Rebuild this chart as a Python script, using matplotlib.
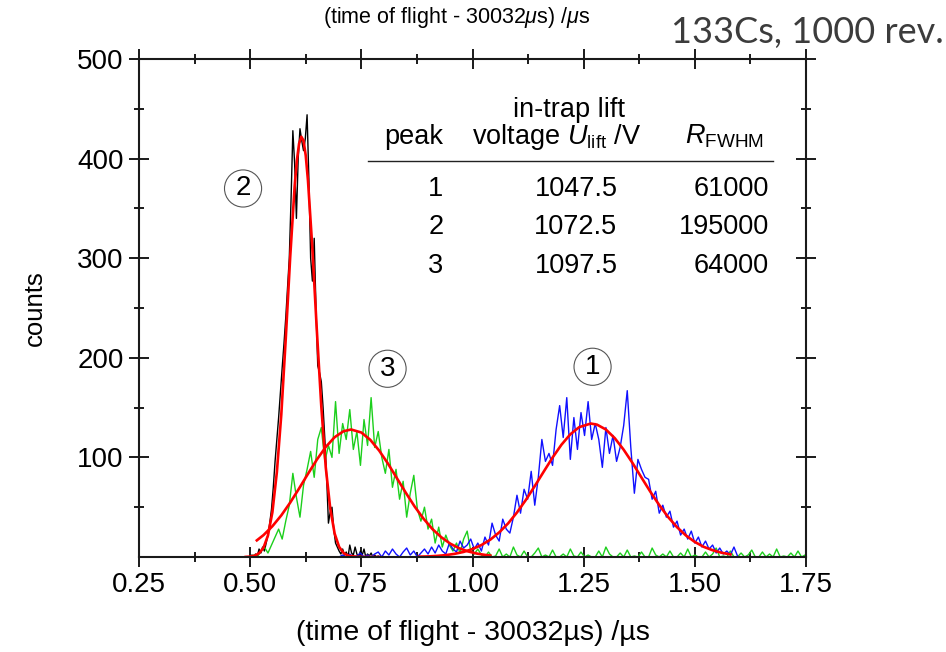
import numpy as np
import matplotlib
matplotlib.use("Agg")
import matplotlib.pyplot as plt
from matplotlib.ticker import FixedLocator

plt.rcParams["font.family"] = ["Liberation Sans", "DejaVu Sans"]
plt.rcParams["mathtext.fontset"] = "custom"
plt.rcParams["mathtext.rm"] = "Liberation Sans"
plt.rcParams["mathtext.it"] = "Liberation Sans:italic"

black_start, black_step = 0.50, 0.004
black_counts = [
    0, 2, 0, 3, 1, 8, 4, 10, 6, 14,
    22, 34, 48, 70, 96, 118, 140, 165, 190, 214,
    240, 270, 300, 360, 428, 395, 340, 400, 430, 418,
    408, 420, 444, 380, 300, 277, 320, 250, 192, 185,
    176, 150, 118, 80, 34, 45, 50, 28, 14, 10,
    6, 3, 8, 2, 5, 0, 12, 4, 2, 10,
    3, 0, 6, 2, 8, 0, 3, 1, 4, 0,
    2, 0, 1, 0, 0, 0,
]

green_start, green_step = 0.50, 0.008
green_counts = [
    0, 2, 0, 6, 10, 4, 12, 20, 28, 18,
    36, 52, 84, 60, 40, 72, 88, 106, 80, 118,
    130, 96, 112, 100, 156, 104, 134, 118, 148, 108,
    126, 92, 138, 112, 160, 110, 126, 100, 84, 108,
    70, 88, 58, 76, 40, 64, 82, 48, 36, 50,
    28, 38, 14, 30, 10, 22, 12, 6, 14, 4,
    18, 26, 6, 3, 8,
    2, 0, 5, 0, 1, 8, 0, 3, 0, 10,
    2, 0, 6, 0, 0, 4, 9, 0, 2, 0,
    7, 0, 0, 3, 0, 8, 1, 0, 5, 0,
    2, 0, 0, 6, 0, 10, 3, 0, 0, 4,
    0, 7, 0, 1, 0, 5, 0, 0, 9, 2,
    0, 3, 0, 6, 0, 0, 4, 0, 8, 0,
    2, 0, 0, 5, 0, 3, 9, 0, 1, 0,
    6, 0, 0, 4, 0, 2, 7, 0, 0, 5,
    0, 3, 0, 8, 0, 1, 0, 4, 0, 6,
    0, 2,
]

blue_start, blue_step = 0.70, 0.008
blue_counts = [
    0, 2, 0, 3, 0, 1, 4, 0, 2, 0, 3,
    5, 0, 6, 2, 8, 3, 0, 5, 9, 2, 6, 0, 4, 8, 3,
    10, 4, 12, 6, 3, 14, 8, 5, 16, 9, 12, 18,
    8, 14, 6, 20, 12, 34, 22, 16, 38, 28, 24, 40,
    62, 44, 68, 58, 86, 52, 80, 118, 96, 104, 92, 128,
    152, 120, 160, 98, 140, 108, 145, 122, 156, 118, 134, 118,
    90, 130, 104, 122, 96, 110, 132, 167, 110, 64, 98, 88, 80,
    78, 58, 66, 44, 52, 40, 46, 30, 36, 22, 28, 18, 26,
    14, 20, 10, 16, 8, 12, 4, 9, 3, 6, 2, 10, 1,
]

# fitted curves (red), sampled from the figure
fit2_x = [0.49, 0.50, 0.51, 0.52, 0.53, 0.54, 0.55, 0.56, 0.57, 0.58, 0.59,
          0.60, 0.605, 0.61, 0.615, 0.62, 0.625, 0.63, 0.64, 0.65, 0.66,
          0.67, 0.68, 0.69, 0.70, 0.71, 0.72, 0.74, 0.76, 0.79]
fit2_y = [0.1, 0.4, 1.3, 3.7, 9.3, 21.6, 45, 85, 143, 219, 301,
          372, 398, 415, 422, 418, 403, 378, 309, 227, 151,
          90, 49, 23.5, 10.2, 4.0, 1.4, 0.2, 0.0, 0.0]

fit3_x = [0.515, 0.53, 0.55, 0.57, 0.59, 0.61, 0.63, 0.65, 0.67, 0.69, 0.71,
          0.727, 0.75, 0.77, 0.79, 0.81, 0.83, 0.85, 0.87, 0.89, 0.91, 0.93,
          0.95, 0.97, 0.99, 1.01, 1.03, 1.04]
fit3_y = [16.7, 22.0, 30.9, 41.8, 54.6, 68.8, 83.5, 97.8, 110.5, 120.3, 126.3,
          128.0, 125.0, 117.7, 106.9, 93.7, 79.1, 64.5, 50.6, 38.4, 28.0, 19.8,
          13.4, 8.8, 5.6, 3.4, 2.0, 1.5]

fit1_x = [0.88, 0.90, 0.92, 0.94, 0.96, 0.98, 1.00, 1.02, 1.04, 1.06, 1.08,
          1.10, 1.12, 1.14, 1.16, 1.18, 1.20, 1.22, 1.24, 1.266, 1.28, 1.30,
          1.32, 1.34, 1.36, 1.38, 1.40, 1.42, 1.44, 1.46, 1.48, 1.50, 1.52,
          1.54, 1.56, 1.58]
fit1_y = [0.35, 0.6, 1.1, 1.9, 3.2, 5.1, 8.0, 12.0, 17.4, 24.7, 33.7,
          44.7, 57.3, 71.2, 85.6, 99.8, 112.7, 123.2, 130.4, 134.0, 132.9, 128.0,
          119.3, 107.7, 94.3, 79.8, 65.5, 52.1, 40.1, 29.9, 21.6, 15.1, 10.2,
          6.8, 4.3, 2.6]

table_peaks = ["1", "2", "3"]
table_voltages = ["1047.5", "1072.5", "1097.5"]
table_resolving = ["61000", "195000", "64000"]

peak_names = ["2", "3", "1"]


def channel_axis(start, step, values):
    return start + step * np.arange(len(values))


fig = plt.figure(figsize=(9.46, 6.52), dpi=100)
ax = fig.add_axes([139 / 946, 95 / 652, 667 / 946, 498 / 652])

ax.plot(channel_axis(black_start, black_step, black_counts), black_counts,
        color="black", lw=1.0)
ax.plot(channel_axis(green_start, green_step, green_counts), green_counts,
        color="#1ccf1c", lw=1.0)
ax.plot(channel_axis(blue_start, blue_step, blue_counts), blue_counts,
        color="#1010ff", lw=1.0)
for fx, fy in [(fit2_x, fit2_y), (fit3_x, fit3_y), (fit1_x, fit1_y)]:
    ax.plot(fx, fy, color="#ff0000", lw=1.9)

ax.set_xlim(0.25, 1.75)
ax.set_ylim(0, 500)
ax.xaxis.set_major_locator(FixedLocator([0.25, 0.5, 0.75, 1.0, 1.25, 1.5, 1.75]))
ax.xaxis.set_minor_locator(FixedLocator([0.375, 0.625, 0.875, 1.125, 1.375, 1.625]))
ax.yaxis.set_major_locator(FixedLocator([100, 200, 300, 400, 500]))
ax.yaxis.set_minor_locator(FixedLocator([50, 150, 250, 350, 450]))
ax.xaxis.set_major_formatter(plt.FuncFormatter(lambda v, p: f"{v:.2f}"))

for side in ax.spines.values():
    side.set_linewidth(1.5)
    side.set_color("#1a1a1a")
ax.tick_params(which="both", direction="inout", top=True, right=True,
               width=1.4, color="#1a1a1a", labelsize=20)
ax.tick_params(which="major", length=14, pad=4)
ax.tick_params(which="minor", length=7)

ax.set_xlabel("(time of flight - 30032µs) /µs", fontsize=20.5, labelpad=16)
ax.set_ylabel("counts", fontsize=18.5, labelpad=22)

# table
fs = 19.5
ax.text(1.216, 442, "in-trap lift", fontsize=fs, ha="center", va="baseline")
ax.text(0.935, 415, "peak", fontsize=fs, ha="right", va="baseline")
ax.text(1.189, 415, r"voltage $U_{\rm lift}$ /V", fontsize=fs, ha="center", va="baseline")
ax.text(1.655, 415, r"$R_{\rm FWHM}$", fontsize=fs, ha="right", va="baseline")
ax.plot([0.764, 1.676], [398, 398], color="#222222", lw=1.0)
for row, base in enumerate([362, 324, 285]):
    ax.text(0.935, base, table_peaks[row], fontsize=fs, ha="right", va="baseline")
    ax.text(1.326, base, table_voltages[row], fontsize=fs, ha="right", va="baseline")
    ax.text(1.667, base, table_resolving[row], fontsize=fs, ha="right", va="baseline")

# circled peak numbers
for name, px, py in zip(peak_names, [0.484, 0.809, 1.270], [370, 189, 191]):
    ax.text(px, py, name, fontsize=20, ha="center", va="center",
            bbox=dict(boxstyle="circle,pad=0.2", fc="white", ec="#555555", lw=0.8))

fig.text(457 / 946, 1 - 18 / 652, r"(time of flight - 30032$\mu$s) /$\mu$s",
         fontsize=15.5, ha="center", va="center")
fig.text(944 / 946, 1 - 33 / 652, "133Cs, 1000 rev.", fontsize=26,
         family="Lato", color="#3c3c3c", ha="right", va="center")

fig.savefig("out.png", dpi=100)
